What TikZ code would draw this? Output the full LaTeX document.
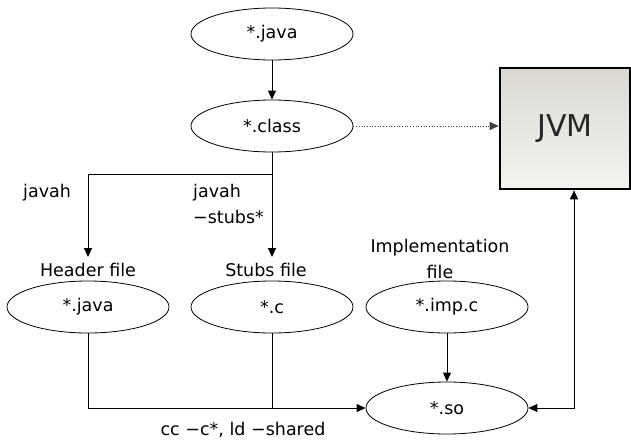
\documentclass[tikz,border=0pt]{standalone}
\usepackage{fontspec}
\setmainfont{DejaVu Sans}
\usetikzlibrary{shapes,arrows.meta,positioning}
\definecolor{vmtop}{HTML}{DAD8D1}
\definecolor{vmbottom}{HTML}{F4F3EF}
\tikzstyle{file} = [ellipse, draw, line width=0.8pt, minimum width=162pt, minimum height=52pt,
    inner sep=0pt, font=\fontsize{17.5}{20}\selectfont]
\tikzstyle{vm} = [rectangle, draw, line width=2.6pt, top color=vmtop, bottom color=vmbottom,
    minimum width=130pt, minimum height=121pt, font=\fontsize{30}{32}\selectfont, text=black!85]
\tikzstyle{line} = [draw, line width=0.9pt, -{Triangle[length=9pt,width=8pt]}]
\tikzstyle{tag} = [inner sep=0pt, font=\fontsize{17.5}{26}\selectfont]

\begin{document}
\begin{tikzpicture}[x=1pt,y=-1pt]
  \useasboundingbox (0,0) rectangle (631,439);

  \node [file] (java) at (272,34) {*.java};
  \node [file] (class) at (272,126) {*.class};
  \node [vm] (jvm) at (565,128.5) {JVM};

  \node [file] (hdr) at (88,307) {*.java};
  \node [file] (stub) at (272,307) {*.c};
  \node [file] (imp) at (447,307) {*.imp.c};
  \node [file] (so) at (447,408) {*.so};

  % names above the generated files
  \node [tag, anchor=west] (javah) at (23,193) {javah};
  \node [tag, anchor=north west, align=left] (javahstubs) at (193,184) {javah\\−stubs*};
  \node [tag] (hdrname) at (88,270) {Header file};
  \node [tag] (stubname) at (266,270) {Stubs file};
  \node [tag, align=center] (impname) at (440,259) {Implementation\\file};
  \node [tag] (cc) at (243,430) {cc −c*, ld −shared};

  \coordinate (split) at (272,174);
  \coordinate (hdrin) at (88,257);
  \coordinate (stubin) at (272,257);

  \path [line] (java) -- (class);
  \draw [line width=0.9pt] (class.south) -- (split);
  \path [line] (split) -| (hdrin);
  \path [line] (split) -- (stubin);
  \draw [dotted, line width=0.7pt, black!75, -{Triangle[length=9pt,width=8pt]}]
    (class.east) -- (class.east -| jvm.west);

  \path [line] (hdr.south) |- (so.west);
  \draw [line width=0.9pt] (stub.south) -- (stub.south |- so.west);
  \path [line] (imp) -- (so);
  \path [line, {Triangle[length=9pt,width=8pt]}-{Triangle[length=9pt,width=8pt]}]
    (so.east) -| ([xshift=9pt]jvm.south);
\end{tikzpicture}
\end{document}
